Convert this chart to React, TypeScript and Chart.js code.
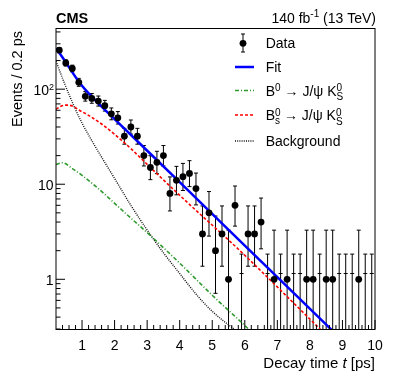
import React, { useEffect, useRef } from "react";
import { Chart, registerables } from "chart.js";

Chart.register(...registerables);

// ---------------- data ----------------
const binCenters = [
  0.3, 0.5, 0.7, 0.9, 1.1, 1.3, 1.5, 1.7, 1.9, 2.1, 2.3, 2.5, 2.7, 2.9, 3.1, 3.3, 3.5,
  3.7, 3.9, 4.1, 4.3, 4.5, 4.7, 4.9, 5.1, 5.3, 5.5, 5.7, 5.9, 6.1, 6.3, 6.5, 6.7, 6.9,
  7.1, 7.3, 7.5, 7.7, 7.9, 8.1, 8.3, 8.5, 8.7, 8.9, 9.1, 9.3, 9.5, 9.7, 9.9,
];
const counts = [
  257, 189, 165, 118, 84, 80, 75, 67, 55, 50, 32, 40, 32, 20, 15, 17, 20,
  8, 11, 12, 13, 9, 3, 5, 2, 3, 1, 6, 0, 3, 3, 4, 0, 1,
  0, 1, 0, 0, 1, 1, 0, 1, 1, 0, 0, 0, 1, 0, 0,
];

const fitT = [0.2, 0.5, 0.9, 1.35, 2.0, 4.0, 6.0, 8.62, 9.0];
const fitV = [270, 192, 120, 80, 48.5, 10.5, 2.26, 0.305, 0.227];

const b0T = [0.2, 0.4, 0.7, 1.0, 1.5, 2.0, 2.5, 3.0, 4.0, 5.0, 6.1, 6.4];
const b0V = [16.1, 16.8, 14.6, 12.4, 9.0, 6.3, 4.4, 3.1, 1.48, 0.68, 0.303, 0.24];

const bsT = [0.2, 0.35, 0.5, 0.7, 0.9, 1.2, 1.6, 2.0, 2.5, 3.1, 4.16, 5.85, 8.31, 8.6];
const bsV = [61.5, 66, 68, 66.5, 60.5, 53, 43, 33.5, 23.7, 15.0, 6.8, 2.0, 0.3, 0.24];

const bkgT = [0.2, 0.4, 0.6, 0.8, 1.0, 1.2, 1.5, 2.0, 2.5, 3.0, 3.5, 4.0, 4.5, 5.0, 5.67, 6.0];
const bkgV = [197, 130, 88, 61, 44, 33, 22, 11.5, 6.0, 3.3, 1.9, 1.15, 0.7, 0.46, 0.3, 0.25];

const xTickValues = [1, 2, 3, 4, 5, 6, 7, 8, 9, 10];
const xTickLabels = ["1", "2", "3", "4", "5", "6", "7", "8", "9", "10"];
const yTickValues = [1, 10, 100];
const yTickLabels = ["1", "10", "10|2"];

// ---------------- helpers ----------------
const FONT = "'Liberation Sans', Arial, Helvetica, sans-serif";

function poissonInterval(n: number): [number, number] {
  if (n === 0) return [0, 1.841];
  const lo = n * Math.pow(1 - 1 / (9 * n) - 1 / (3 * Math.sqrt(n)), 3);
  const m = n + 1;
  const hi = m * Math.pow(1 - 1 / (9 * m) + 1 / (3 * Math.sqrt(m)), 3);
  return [lo, hi];
}

type Seg = { t: string; size: number; dy?: number; italic?: boolean; bold?: boolean; stack?: boolean };

function segFont(s: Seg) {
  return `${s.italic ? "italic " : ""}${s.bold ? "bold " : ""}${s.size}px ${FONT}`;
}

function richWidth(ctx: CanvasRenderingContext2D, segs: Seg[]) {
  let w = 0;
  for (const s of segs) {
    ctx.font = segFont(s);
    if (!s.stack) w += ctx.measureText(s.t).width;
  }
  return w;
}

function drawRich(ctx: CanvasRenderingContext2D, x: number, y: number, segs: Seg[], align: "left" | "right" = "left") {
  let cx = align === "right" ? x - richWidth(ctx, segs) : x;
  ctx.textAlign = "left";
  ctx.textBaseline = "alphabetic";
  for (const s of segs) {
    ctx.font = segFont(s);
    ctx.fillText(s.t, cx, y + (s.dy || 0));
    if (!s.stack) cx += ctx.measureText(s.t).width;
  }
}

const styles = {
  fit: { color: "#0000ff", width: 2.5, dash: [] as number[] },
  b0: { color: "#2e9a2e", width: 1.6, dash: [4, 2, 1, 2] },
  bs: { color: "#ff0000", width: 1.6, dash: [3, 2] },
  bkg: { color: "#111111", width: 1.4, dash: [1, 1.2] },
};

const rootPlugin = {
  id: "rootStyle",
  beforeDatasetsDraw(chart: any) {
    const { ctx, chartArea: a, scales } = chart;
    const x = scales.x;
    const y = scales.y;
    ctx.save();
    ctx.beginPath();
    ctx.rect(a.left, a.top, a.right - a.left, a.bottom - a.top);
    ctx.clip();
    ctx.strokeStyle = "#000";
    ctx.lineWidth = 1;
    binCenters.forEach((t, i) => {
      const n = counts[i];
      const [lo, hi] = poissonInterval(n);
      const px = x.getPixelForValue(t);
      const yTop = y.getPixelForValue(hi);
      const yBot = lo > 0 ? y.getPixelForValue(lo) : a.bottom + 5;
      ctx.beginPath();
      ctx.moveTo(px, yTop);
      ctx.lineTo(px, yBot);
      ctx.moveTo(px - 2, yTop);
      ctx.lineTo(px + 2, yTop);
      if (lo > 0) {
        ctx.moveTo(px - 2, yBot);
        ctx.lineTo(px + 2, yBot);
      }
      if (n === 0) {
        const ym = y.getPixelForValue(1.15);
        ctx.moveTo(px - 2, ym);
        ctx.lineTo(px + 2, ym);
      }
      ctx.stroke();
    });
    ctx.restore();
  },
  afterDraw(chart: any) {
    const { ctx, chartArea: a, scales } = chart;
    const x = scales.x;
    const y = scales.y;
    ctx.save();
    ctx.fillStyle = "#000";
    ctx.strokeStyle = "#000";
    ctx.lineWidth = 1;
    ctx.setLineDash([]);

    // frame
    ctx.beginPath();
    ctx.moveTo(a.left, a.top + 0.5);
    ctx.lineTo(a.right, a.top + 0.5);
    ctx.moveTo(a.left, a.bottom + 0.5);
    ctx.lineTo(a.right, a.bottom + 0.5);
    ctx.moveTo(a.left, a.top);
    ctx.lineTo(a.left, a.bottom + 1);
    ctx.moveTo(a.right, a.top);
    ctx.lineTo(a.right, a.bottom + 1);
    ctx.stroke();

    // x ticks
    ctx.beginPath();
    for (let k = 1; k <= 49; k++) {
      const v = 0.2 + k * 0.2;
      const major = Math.abs(v - Math.round(v)) < 1e-6;
      const px = x.getPixelForValue(v);
      ctx.moveTo(px, a.bottom);
      ctx.lineTo(px, a.bottom - (major ? 9 : 4));
    }
    // y ticks
    for (let e = -1; e <= 2; e++) {
      for (let m = 1; m <= 9; m++) {
        const v = m * Math.pow(10, e);
        if (v < 0.3 || v > 440) continue;
        const py = y.getPixelForValue(v);
        ctx.moveTo(a.left, py);
        ctx.lineTo(a.left + (m === 1 ? 9 : 4.5), py);
      }
    }
    ctx.stroke();

    // x tick labels
    ctx.font = `14px ${FONT}`;
    ctx.textAlign = "center";
    ctx.textBaseline = "alphabetic";
    xTickValues.forEach((v, i) => {
      ctx.fillText(xTickLabels[i], x.getPixelForValue(v), 349.5);
    });
    // y tick labels
    yTickValues.forEach((v, i) => {
      const py = y.getPixelForValue(v) + 5.5;
      const lab = yTickLabels[i];
      if (lab.includes("|")) {
        const [base, sup] = lab.split("|");
        drawRich(ctx, 54, py, [{ t: base, size: 14 }, { t: sup, size: 9, dy: -5 }], "right");
      } else {
        drawRich(ctx, 53.5, py, [{ t: lab, size: 14 }], "right");
      }
    });

    // axis titles
    drawRich(ctx, 375, 367.5, [
      { t: "Decay time ", size: 15 },
      { t: "t", size: 15, italic: true },
      { t: " [ps]", size: 15 },
    ], "right");
    ctx.save();
    ctx.translate(22, 31);
    ctx.rotate(-Math.PI / 2);
    ctx.font = `14.5px ${FONT}`;
    ctx.textAlign = "right";
    ctx.textBaseline = "alphabetic";
    ctx.fillText("Events / 0.2 ps", 0, 0);
    ctx.restore();

    // header texts
    drawRich(ctx, 56, 22.7, [{ t: "CMS", size: 14.5, bold: true }]);
    drawRich(ctx, 376, 22.7, [
      { t: "140 fb", size: 14 },
      { t: "-1", size: 10, dy: -6 },
      { t: " (13 TeV)", size: 14 },
    ], "right");

    // legend
    const lx0 = 235;
    const lx1 = 254;
    const tx = 265.7;
    // Data
    ctx.beginPath();
    ctx.moveTo(243, 34);
    ctx.lineTo(243, 52);
    ctx.moveTo(241, 34);
    ctx.lineTo(245, 34);
    ctx.moveTo(241, 52);
    ctx.lineTo(245, 52);
    ctx.stroke();
    ctx.beginPath();
    ctx.arc(243, 43.3, 3.4, 0, Math.PI * 2);
    ctx.fill();
    drawRich(ctx, tx, 48.3, [{ t: "Data", size: 14 }]);

    const lineSym = (yy: number, st: { color: string; width: number; dash: number[] }) => {
      ctx.save();
      ctx.strokeStyle = st.color;
      ctx.lineWidth = st.width;
      ctx.setLineDash(st.dash);
      ctx.beginPath();
      ctx.moveTo(lx0, yy);
      ctx.lineTo(lx1, yy);
      ctx.stroke();
      ctx.restore();
    };
    lineSym(67, styles.fit);
    drawRich(ctx, tx, 72, [{ t: "Fit", size: 14 }]);
    lineSym(90.5, styles.b0);
    drawRich(ctx, tx, 95.5, [
      { t: "B", size: 14 },
      { t: "0", size: 10, dy: -4.5 },
      { t: " \u2192 J/\u03C8 K", size: 14 },
      { t: "0", size: 10, dy: -4.5, stack: true },
      { t: "S", size: 10, dy: 4.5 },
    ]);
    lineSym(115, styles.bs);
    drawRich(ctx, tx, 120, [
      { t: "B", size: 14 },
      { t: "0", size: 10, dy: -4.5, stack: true },
      { t: "s", size: 10, dy: 3.5 },
      { t: " \u2192 J/\u03C8 K", size: 14 },
      { t: "0", size: 10, dy: -4.5, stack: true },
      { t: "S", size: 10, dy: 4.5 },
    ]);
    lineSym(141, styles.bkg);
    drawRich(ctx, tx, 145.5, [{ t: "Background", size: 14 }]);

    ctx.restore();
  },
};

function curve(label: string, ts: number[], vs: number[], st: { color: string; width: number; dash: number[] }) {
  return {
    type: "line" as const,
    label,
    data: ts.map((t, i) => ({ x: t, y: vs[i] })),
    borderColor: st.color,
    borderWidth: st.width,
    borderDash: st.dash,
    pointRadius: 0,
    fill: false,
    cubicInterpolationMode: "monotone" as const,
  };
}

export default function App() {
  const ref = useRef<HTMLCanvasElement>(null);
  useEffect(() => {
    document.body.style.margin = "0";
    const canvas = ref.current!;
    const chart = new Chart(canvas, {
      type: "scatter",
      data: {
        datasets: [
          {
            type: "scatter",
            label: "Data",
            data: binCenters.map((t, i) => ({ x: t, y: counts[i] > 0 ? counts[i] : null })) as any,
            pointRadius: 3.4,
            pointBackgroundColor: "#000",
            pointBorderWidth: 0,
            showLine: false,
          } as any,
          curve("Fit", fitT, fitV, styles.fit),
          curve("B0", b0T, b0V, styles.b0),
          curve("Bs", bsT, bsV, styles.bs),
          curve("Background", bkgT, bkgV, styles.bkg),
        ],
      },
      options: {
        responsive: false,
        animation: false,
        devicePixelRatio: 1,
        events: [],
        layout: { padding: { left: 56, right: 24, top: 28, bottom: 54 } },
        plugins: { legend: { display: false }, tooltip: { enabled: false } },
        scales: {
          x: { type: "linear", min: 0.2, max: 10, display: false },
          y: { type: "logarithmic", min: 0.3, max: 440, display: false },
        },
      },
      plugins: [rootPlugin],
    });
    return () => chart.destroy();
  }, []);
  return (
    <div style={{ width: 399, height: 383 }}>
      <canvas ref={ref} width={399} height={383} style={{ display: "block", width: 399, height: 383 }} />
    </div>
  );
}
